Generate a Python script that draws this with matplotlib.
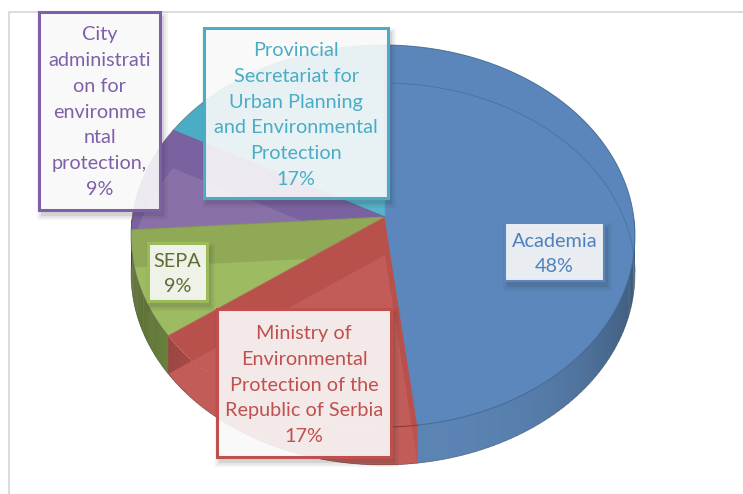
import numpy as np
import matplotlib
matplotlib.use('Agg')
from matplotlib import pyplot as plt
from matplotlib.patches import Polygon, Rectangle, PathPatch
from matplotlib.path import Path

# slices go clockwise from the top
names = ['Academia', 'Ministry', 'SEPA', 'City', 'Provincial']
values = [48, 17, 9, 9, 17]
labels = ['Academia\n48%',
          'Ministry of\nEnvironmental\nProtection of the\nRepublic of Serbia\n17%',
          'SEPA\n9%',
          'City\nadministrati\non for\nenvironme\nntal\nprotection,\n9%',
          'Provincial\nSecretariat for\nUrban Planning\nand Environmental\nProtection\n17%']

dark = ['#5a86bb', '#b8504c', '#8fa956', '#7a62a0', '#4bacc6']
light = ['#5b87bc', '#c25c58', '#9dbb60', '#8a70a9', '#56b3cb']
wall = ['#5b84b4', '#bb5350', '#7f9a48', '#6d5790', '#4bacc6']
text_col = ['#4f81bd', '#c0504d', '#5c6e34', '#7f60a8', '#4bacc6']
edge_col = ['#5b87bc', '#c0504d', '#9bbb59', '#7f60a8', '#4bacc6']

# x0, y0, x1, y1 of each label box in pixels
boxes = [(505, 223, 604, 281), (217, 309, 391, 457), (148, 243, 207, 301),
         (39, 12, 160, 210), (204, 28, 388, 198)]
text_y = [254, 385, 274, 112, 115]
box_lw = [1.5, 2.2, 2.2, 2.2, 2.2]

cx, cy, rx, ry = 383, 236, 252, 191
apex = (385, 217)
depth = 38


def rim(th, shift=0):
    # small warp of the angle, the front of a tilted pie looks wider
    t = np.radians(th - 5.5 * np.sin(np.radians(th)))
    return cx + rx * np.sin(t), cy - ry * np.cos(t) + shift


def wedge(a, b, shift=0):
    th = np.linspace(a, b, 120)
    x, y = rim(th, shift)
    return np.vstack([[apex[0], apex[1] + shift], np.column_stack([x, y])])


def side(a, b):
    th = np.linspace(a, b, 120)
    x, y = rim(th)
    x2, y2 = rim(th[::-1], depth)
    return np.vstack([np.column_stack([x, y]), np.column_stack([x2, y2])])


fig = plt.figure(figsize=(7.43, 4.94), dpi=100)
ax = fig.add_axes([0, 0, 1, 1])
ax.set_xlim(0, 743)
ax.set_ylim(494, 0)
ax.axis('off')

# chart frame
ax.plot([9, 9, 743], [494, 12, 12], color='#d9d9d9', lw=1.3, zorder=1)

ends = np.cumsum(values) * 3.6
starts = ends - np.array(values) * 3.6

# side walls, only the front half can be seen
for i in range(len(values)):
    a, b = max(starts[i], 90), min(ends[i], 270)
    if a >= b:
        continue
    steps = np.linspace(a, b, 60)
    base = np.array(matplotlib.colors.to_rgb(wall[i]))
    for s0, s1 in zip(steps[:-1], steps[1:]):
        shade = 1 - 0.32 * abs(np.sin(np.radians(s0))) ** 3
        ax.add_patch(Polygon(side(s0, s1 + 0.4), closed=True, fc=base * shade, ec='none', zorder=2))

# top faces and the bottom face seen through them
for i in range(len(values)):
    top = wedge(starts[i], ends[i])
    ax.add_patch(Polygon(top, closed=True, fc=dark[i], ec='none', zorder=3))
    parts = [Path(np.vstack([top, top[0]]), closed=True)]
    # the red slice is the only one whose wall looks lit from behind
    if i == 1:
        sd = side(starts[i], ends[i])
        parts.append(Path(np.vstack([sd, sd[0]]), closed=True))
    clip = PathPatch(Path.make_compound_path(*parts), transform=ax.transData, fc='none', ec='none')
    ax.add_patch(clip)
    low = Polygon(wedge(starts[i], ends[i], depth), closed=True, fc=light[i], ec='none', zorder=4)
    ax.add_patch(low)
    low.set_clip_path(clip)

# edge lines
x, y = rim(np.linspace(0, ends[0], 300))
ax.plot(x, y, color='#3d5f86', lw=0.7, alpha=0.8, zorder=5)
x, y = rim(np.linspace(ends[1], 360, 200))
ax.plot(x, y, color='#555555', lw=0.6, alpha=0.6, zorder=5)
x, y = rim(np.linspace(90, 270, 200), depth)
ax.plot(x, y, color='#444444', lw=0.5, alpha=0.5, zorder=5)
for i in range(len(values)):
    x, y = rim(ends[i])
    ax.plot([apex[0], x], [apex[1], y], color=wall[i], lw=0.8, alpha=0.8, zorder=5)
x, y = rim(np.linspace(0, 95, 200), depth)
ax.plot(x, y, color='#3f6590', lw=0.6, alpha=0.6, zorder=5)
x, y = rim(np.linspace(ends[0], ends[0] + 6, 20))
ax.plot(x, y, color='#8a3a38', lw=0.8, zorder=5)

# label boxes with a soft shadow
for i in range(len(values)):
    x0, y0, x1, y1 = boxes[i]
    for grow, al in zip([5, 3, 1], [0.05, 0.07, 0.10]):
        ax.add_patch(Rectangle((x0 + 3 - grow, y0 + 5 - grow), x1 - x0 + 2 * grow, y1 - y0 + 2 * grow,
                               fc='#333333', ec='none', alpha=al, zorder=6))
    ax.add_patch(Rectangle((x0, y0), x1 - x0, y1 - y0, fc='white', ec='none', alpha=0.88, zorder=7))
    ax.add_patch(Rectangle((x0, y0), x1 - x0, y1 - y0, fc='none', ec=edge_col[i], lw=box_lw[i], zorder=8))
    ax.text((x0 + x1) / 2, text_y[i], labels[i], color=text_col[i], ha='center', va='center',
            family='Lato', fontsize=14.3, linespacing=1.63, zorder=9)

fig.savefig('out.png', dpi=100)
